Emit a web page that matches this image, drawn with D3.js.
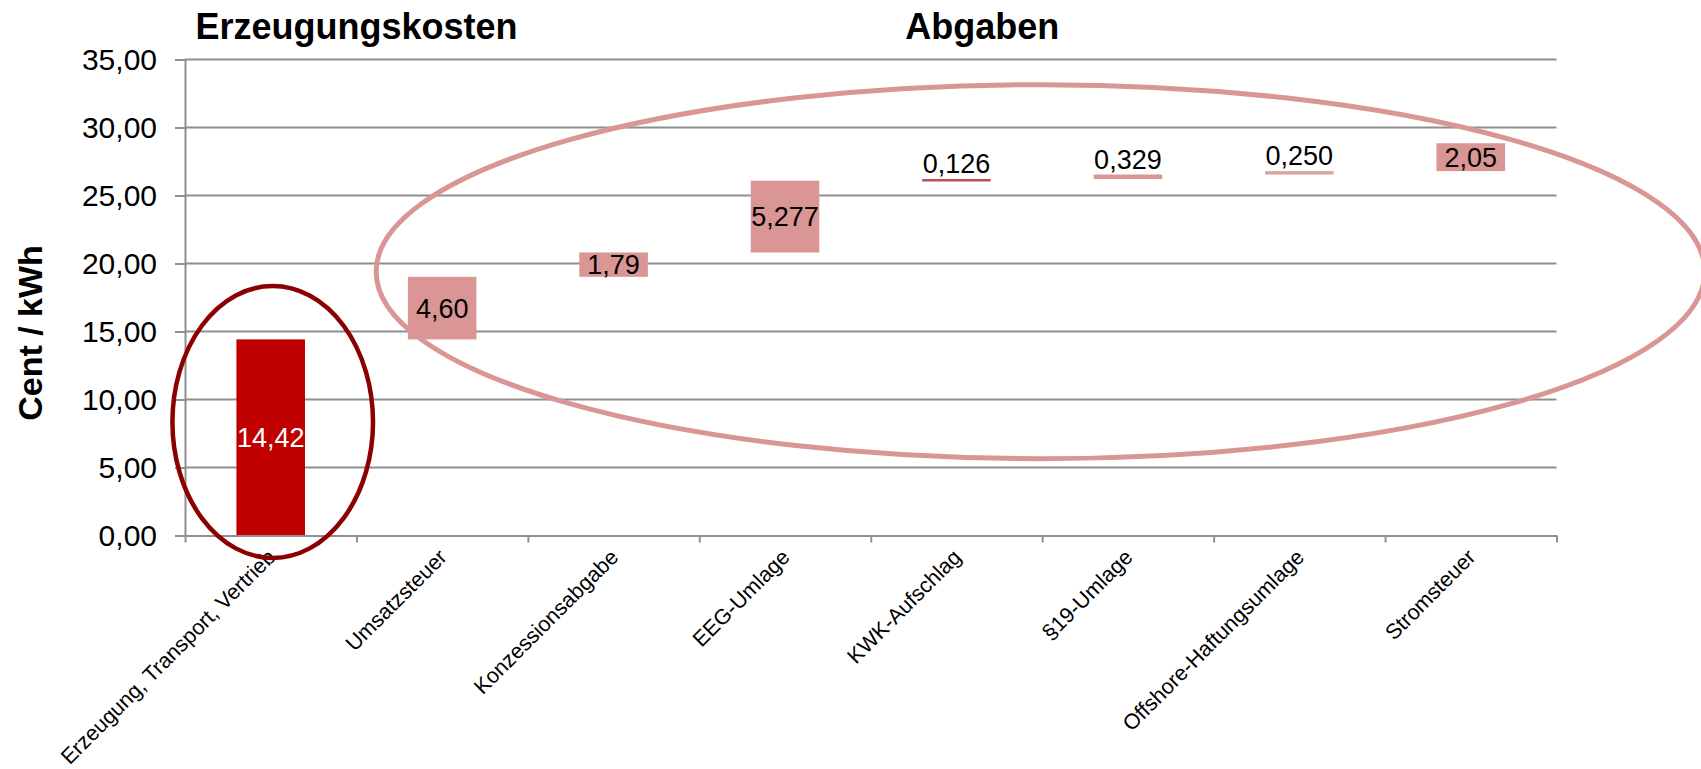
<!DOCTYPE html>
<html>
<head>
<meta charset="utf-8">
<script src="https://cdn.jsdelivr.net/npm/d3@7"></script>
<style>
  body { margin: 0; background: #fff; }
  svg { display: block; font-family: "Liberation Sans", Arial, sans-serif; }
  .grid line { stroke: #8f8f8f; stroke-width: 2; }
  .axis path, .axis line { stroke: #8f8f8f; stroke-width: 2; }
  .axis text { fill: #000; }
</style>
</head>
<body>
<svg width="1701" height="769"></svg>
<script>
// categories and values (Cent / kWh)
const categories = ["Erzeugung, Transport, Vertrieb", "Umsatzsteuer", "Konzessionsabgabe", "EEG-Umlage",
                    "KWK-Aufschlag", "§19-Umlage", "Offshore-Haftungsumlage", "Stromsteuer"];
const values = [14.42, 4.60, 1.79, 5.277, 0.126, 0.329, 0.250, 2.05];
const valueLabels = ["14,42", "4,60", "1,79", "5,277", "0,126", "0,329", "0,250", "2,05"];
const barColors = ["#c00000", "#d99694", "#d99694", "#d99694", "#c0504d", "#d99694", "#dca3a3", "#d99694"];
const yTicks = [0, 5, 10, 15, 20, 25, 30, 35];
const groupTitles = ["Erzeugungskosten", "Abgaben"];

let svg = d3.select("svg"),
    plotLeft = 185, plotRight = 1556.5, plotTop = 59.5, plotBottom = 535.5;

let x = d3.scaleBand().domain(categories).range([plotLeft, plotRight]);
let xIdx = d3.scaleLinear().domain([0, categories.length]).range([plotLeft, plotRight]);
let y = d3.scaleLinear().domain([0, 35]).range([plotBottom, plotTop]);

// waterfall: each bar starts where the previous one ends
let start = 0;
let bars = categories.map(function(c, i) {
  let b = {cat: c, v: values[i], label: valueLabels[i], color: barColors[i], y0: start, y1: start + values[i]};
  start += values[i];
  return b;
});

let bw = x.bandwidth() * 0.4;

// gridlines
svg.append("g")
    .attr("class", "grid")
  .selectAll("line")
  .data(yTicks.filter(d => d > 0))
  .enter().append("line")
    .attr("x1", plotLeft)
    .attr("x2", plotRight)
    .attr("y1", d => y(d))
    .attr("y2", d => y(d));

// bars
svg.append("g")
  .selectAll("rect")
  .data(bars)
  .enter().append("rect")
    .attr("x", d => x(d.cat) + (x.bandwidth() - bw) / 2)
    .attr("width", bw)
    .attr("y", d => y(d.y1))
    .attr("height", d => Math.max(y(d.y0) - y(d.y1), 2.5))
    .attr("fill", d => d.color);

// y axis
svg.append("g")
    .attr("class", "axis")
    .attr("transform", "translate(" + plotLeft + ",0)")
    .call(d3.axisLeft(y).tickValues(yTicks).tickSize(10).tickPadding(18)
          .tickFormat(d => d.toFixed(2).replace(".", ",")))
    .call(g => g.selectAll("text").attr("font-size", 30).attr("font-family", "Liberation Sans, Arial, sans-serif"));

// x axis with ticks between categories
svg.append("g")
    .attr("class", "axis")
    .attr("transform", "translate(0," + plotBottom + ")")
    .call(d3.axisBottom(xIdx).ticks(categories.length).tickSize(7).tickSizeOuter(0).tickFormat(""));

// category labels
svg.append("g")
  .selectAll("text")
  .data(categories)
  .enter().append("text")
    .attr("transform", d => "translate(" + (x(d) + x.bandwidth() / 2 + 6) + "," + (plotBottom + 23) + ") rotate(-45)")
    .attr("text-anchor", "end")
    .attr("font-size", 21.5)
    .text(d => d);

// value labels
svg.append("g")
  .selectAll("text")
  .data(bars)
  .enter().append("text")
    .attr("x", d => x(d.cat) + x.bandwidth() / 2)
    .attr("y", function(d) {
      let h = y(d.y0) - y(d.y1);
      return h > 20 ? (y(d.y0) + y(d.y1)) / 2 : y(d.y1) - 6;
    })
    .attr("dy", d => (y(d.y0) - y(d.y1)) > 20 ? "0.36em" : 0)
    .attr("text-anchor", "middle")
    .attr("font-size", 27)
    .attr("fill", (d, i) => i === 0 ? "#fff" : "#000")
    .text(d => d.label);

// y axis title
svg.append("text")
    .attr("transform", "translate(42,333) rotate(-90)")
    .attr("text-anchor", "middle")
    .attr("font-size", 34)
    .attr("font-weight", "bold")
    .text("Cent / kWh");

// group headings
svg.append("g")
  .selectAll("text")
  .data(groupTitles)
  .enter().append("text")
    .attr("x", (d, i) => i === 0 ? x(categories[0]) + x.bandwidth() : xIdx(4.65))
    .attr("y", 39)
    .attr("text-anchor", "middle")
    .attr("font-size", 36)
    .attr("font-weight", "bold")
    .text(d => d);

// highlight ellipses
svg.append("ellipse")
    .attr("cx", x(categories[0]) + x.bandwidth() / 2 + 2)
    .attr("cy", y(8.35))
    .attr("rx", x.bandwidth() * 0.585)
    .attr("ry", y(0) - y(10))
    .attr("fill", "none")
    .attr("stroke", "#8b0000")
    .attr("stroke-width", 4.5);

svg.append("ellipse")
    .attr("cx", xIdx(4.99))
    .attr("cy", y(19.4))
    .attr("rx", x.bandwidth() * 3.875)
    .attr("ry", y(0) - y(13.75))
    .attr("fill", "none")
    .attr("stroke", "#d99694")
    .attr("stroke-width", 5);
</script>
</body>
</html>
